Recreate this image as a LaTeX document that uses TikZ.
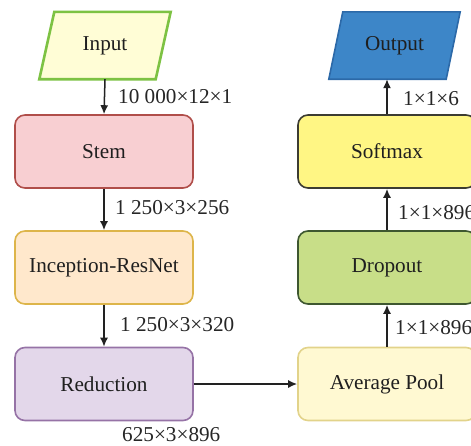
\documentclass[tikz,border=0pt]{standalone}
\usepackage{fontspec}
\setmainfont{Liberation Serif}
\newfontfamily\labelfont{Liberation Serif}
\usetikzlibrary{arrows.meta,calc}

\definecolor{inFill}{HTML}{FFFDD6}
\definecolor{inLine}{HTML}{7DC243}
\definecolor{stemFill}{HTML}{F8CFD2}
\definecolor{stemLine}{HTML}{B04E4A}
\definecolor{incFill}{HTML}{FFE8CC}
\definecolor{incLine}{HTML}{DDB54A}
\definecolor{redFill}{HTML}{E3D7EA}
\definecolor{redLine}{HTML}{9673A6}
\definecolor{avgFill}{HTML}{FFF9D2}
\definecolor{avgLine}{HTML}{E2D38A}
\definecolor{dropFill}{HTML}{C8DE88}
\definecolor{dropLine}{HTML}{3E5730}
\definecolor{softFill}{HTML}{FFF684}
\definecolor{softLine}{HTML}{3C3C32}
\definecolor{outFill}{HTML}{3D86C8}
\definecolor{outLine}{HTML}{2C69A8}
\definecolor{wire}{HTML}{222222}

\begin{document}
\begin{tikzpicture}[x=1pt,y=-1pt,
  font=\labelfont\fontsize{21.2}{25}\selectfont,
  block/.style={draw, line width=1.6pt, rounded corners=10pt,
    minimum width=178pt, minimum height=73pt, inner sep=0pt, text=black!88},
  io/.style={minimum width=131pt, minimum height=67pt, inner sep=0pt},
  flow/.style={draw=wire, line width=1.5pt, -{Latex[length=9pt,width=8pt]}},
  dim/.style={anchor=west, inner sep=0pt, text=black!85}]
\useasboundingbox (0,0) rectangle (471,445);

% blocks of the network
\node[block, fill=stemFill, draw=stemLine] (stem) at (104,151.5) {Stem};
\node[block, fill=incFill, draw=incLine] (inc) at (104,267.5) {Inception-ResNet};
\node[block, fill=redFill, draw=redLine] (red) at (104,384) {Reduction};
\node[block, fill=avgFill, draw=avgLine] (avg) at (387,384) {Average Pool};
\node[block, fill=dropFill, draw=dropLine] (drop) at (387,267.5) {Dropout};
\node[block, fill=softFill, draw=softLine] (soft) at (387,151.5) {Softmax};

% input / output parallelograms
\node[io] (in) at (105,45.5) {};
\filldraw[fill=inFill, draw=inLine, line width=2.6pt, line join=miter]
  ($(in.north west)+(15,0)$) -- (in.north east) -- ($(in.south east)+(-15,0)$)
  -- (in.south west) -- cycle;
\node[text=black!88] at (in) {Input};

\node[io] (out) at (394.5,45.5) {};
\filldraw[fill=outFill, draw=outLine, line width=1.6pt, line join=miter]
  ($(out.north west)+(14,0)$) -- (out.north east) -- ($(out.south east)+(-14,0)$)
  -- (out.south west) -- cycle;
\node[text=black!88] at (out) {Output};

% data flow
\draw[flow] (in.south) -- (stem.north);
\draw[flow] (stem.south) -- (inc.north);
\draw[flow] (inc.south) -- (red.north);
\draw[flow] (red.east) -- (avg.west);
\draw[flow] (avg.north) -- (drop.south);
\draw[flow] (drop.north) -- (soft.south);
\draw[flow] (soft.north) -- (soft.north |- out.south);

% tensor shapes
\node[dim] (d1) at (118,97) {10 000×12×1};
\node[dim] (d2) at (115,208) {1 250×3×256};
\node[dim] (d3) at (120,325) {1 250×3×320};
\node[dim] (d4) at (122,435) {625×3×896};
\node[dim] (d5) at (395,328) {1×1×896};
\node[dim] (d6) at (398,213) {1×1×896};
\node[dim] (d7) at (403,99) {1×1×6};
\end{tikzpicture}
\end{document}
